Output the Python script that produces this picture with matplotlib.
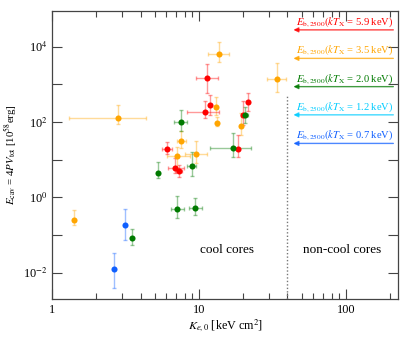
import numpy as np
import matplotlib.pyplot as plt
from matplotlib.ticker import LogLocator, NullFormatter, FixedLocator, FixedFormatter

plt.rcParams['font.family'] = ['Liberation Serif', 'DejaVu Serif']
plt.rcParams['mathtext.fontset'] = 'stix'

# data: K (x), err low/high, E (y), err low/high
# orange
o_K = [1.41, 2.8, 13.8, 33.9, 13.0, 13.3, 19.4, 7.6, 7.1, 9.6]
o_Klo = [1.41, 1.3, 11.6, 29.1, 13.0, 13.3, 19.4, 7.1, 6.1, 8.0]
o_Khi = [1.41, 4.37, 16.0, 39.4, 13.0, 13.3, 19.4, 8.2, 8.7, 11.3]
o_E = [0.245, 126, 6.5e3, 1.4e3, 256, 97, 76, 30.5, 12.2, 14.3]
o_Elo = [0.18, 88, 4.0e3, 615, 155, 76, 46, 20, 6.0, 8.1]
o_Ehi = [0.45, 284, 1.3e4, 3.6e3, 455, 140, 170, 56, 22, 32]

# red
r_K = [6.1, 6.9, 7.33, 11.4, 10.96, 11.9, 18.5, 19.8, 21.7]
r_Klo = [5.6, 6.2, 7.0, 9.5, 8.3, 11.9, 18.5, 19.8, 21.7]
r_Khi = [6.6, 7.9, 7.7, 13.4, 13.6, 11.9, 18.5, 19.8, 21.7]
r_E = [19.5, 6.0, 4.9, 1.5e3, 189, 280, 19, 155, 340]
r_Elo = [14, 4.5, 3.4, 575, 130, 150, 12, 85, 200]
r_Ehi = [30, 11, 7.2, 3.5e3, 360, 510, 46, 360, 590]

# green
g_K = [5.3, 7.5, 8.9, 7.1, 9.4, 17.0, 20.6, 3.5]
g_Klo = [5.3, 6.8, 8.3, 6.4, 8.6, 11.8, 19.4, 3.5]
g_Khi = [5.3, 8.3, 9.5, 7.9, 10.5, 22.7, 21.5, 3.5]
g_E = [4.4, 100, 6.9, 0.49, 0.52, 21, 151, 0.082]
g_Elo = [3.2, 57, 3.6, 0.28, 0.33, 12, 95, 0.055]
g_Ehi = [8.7, 210, 16, 1.1, 0.95, 51, 250, 0.14]

# blue
b_K = [3.11, 2.62]
b_E = [0.185, 0.0122]
b_Elo = [0.075, 0.0039]
b_Ehi = [0.49, 0.033]

# energy limits (arrows)
lim_E = [2.8e4, 4.9e3, 870, 155, 27]
lim_kT = ['5.9', '3.5', '2.0', '1.2', '0.7']
lim_col = ['#ff0000', '#ffa500', '#007a00', '#00ccff', '#1060ff']

fig = plt.figure(figsize=(4.11, 3.37), dpi=100)
ax = fig.add_axes([0.127, 0.113, 0.842, 0.855])
ax.set_xscale('log')
ax.set_yscale('log')
ax.set_xlim(1, 228)
ax.set_ylim(2e-3, 9e4)


def plot_set(K, Klo, Khi, E, Elo, Ehi, c):
    K = np.array(K); E = np.array(E)
    xerr = [K - np.array(Klo), np.array(Khi) - K]
    yerr = [E - np.array(Elo), np.array(Ehi) - E]
    ax.errorbar(K, E, xerr=xerr, yerr=yerr, fmt='none', ecolor=c,
                elinewidth=1.0, capsize=1.5, alpha=0.4, zorder=2)
    ax.plot(K, E, 'o', color=c, ms=4.4, mec='none', zorder=3)


plot_set(o_K, o_Klo, o_Khi, o_E, o_Elo, o_Ehi, '#ffa500')
plot_set(r_K, r_Klo, r_Khi, r_E, r_Elo, r_Ehi, '#ff0000')
plot_set(g_K, g_Klo, g_Khi, g_E, g_Elo, g_Ehi, '#007a00')
plot_set(b_K, b_K, b_K, b_E, b_Elo, b_Ehi, '#1060ff')

for E, kT, c in zip(lim_E, lim_kT, lim_col):
    ax.annotate('', xy=(44, E), xytext=(211, E),
                arrowprops=dict(arrowstyle='-|>', color=c, lw=1.0, alpha=0.75,
                                mutation_scale=7, shrinkA=0, shrinkB=0))
    ax.text(46, E * 1.07, r'$E_{\rm b,2500}(kT_{\rm X}$ = ' + kT + ' keV)',
            color=c, fontsize=7.6, ha='left', va='bottom')

ax.vlines(40, 2e-3, 480, colors='#777777', linestyles=(0, (1, 1.5)), lw=1.0)
ax.text(15.5, 0.041, 'cool cores', fontsize=9.5, ha='center', va='center')
ax.text(94, 0.041, 'non-cool cores', fontsize=9.5, ha='center', va='center')

ax.set_xlabel(r'$K_{e,0}$ [keV cm$^2$]', fontsize=8.7, labelpad=1)
ax.set_ylabel(r'$E_{\rm cav}$ = 4$PV_{\rm tot}$ [10$^{58}$erg]', fontsize=7.8, labelpad=3)

ax.set_xticks([1, 10, 100])
ax.set_xticklabels(['1', '10', '100'])
ax.xaxis.set_minor_locator(LogLocator(base=10, subs=np.arange(2, 10)))
ax.xaxis.set_minor_formatter(NullFormatter())
ax.yaxis.set_major_locator(FixedLocator([1e-2, 1, 1e2, 1e4]))
ax.yaxis.set_major_formatter(FixedFormatter([r'10$^{-2}$', r'10$^{0}$', r'10$^{2}$', r'10$^{4}$']))
ax.yaxis.set_minor_locator(FixedLocator([1e-1, 10, 1e3]))
ax.yaxis.set_minor_formatter(NullFormatter())
ax.tick_params(which='both', direction='in', top=True, right=True, labelsize=8.8, color='#444444')
ax.tick_params(which='major', length=7, width=0.8)
ax.tick_params(which='minor', length=4, width=0.8)
ax.tick_params(axis='y', which='minor', length=7)
for s in ax.spines.values():
    s.set_color('#444444')
    s.set_linewidth(0.9)

fig.savefig('out.png', dpi=100)
